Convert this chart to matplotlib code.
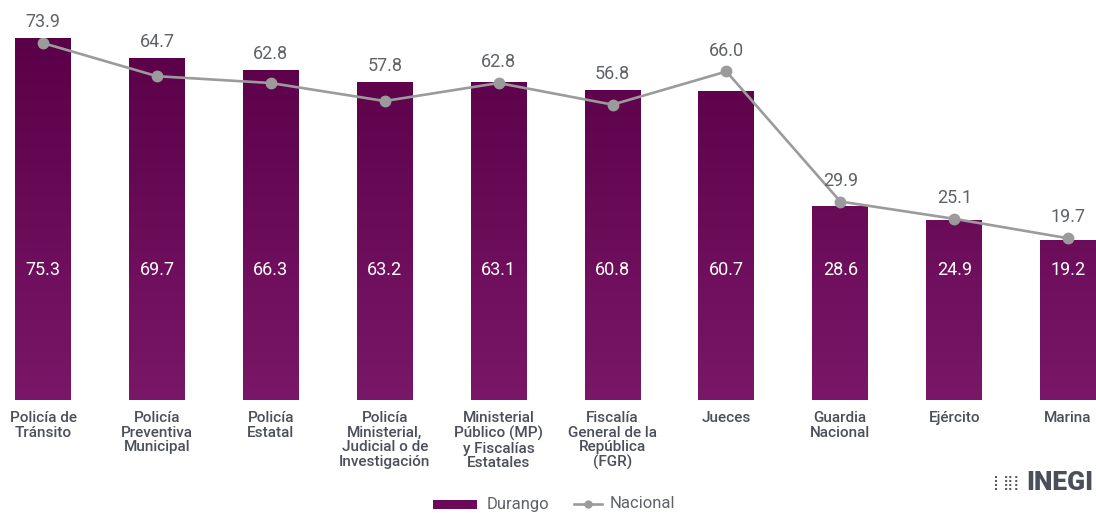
import numpy as np
import matplotlib.pyplot as plt
from matplotlib.colors import LinearSegmentedColormap
from matplotlib.patches import Rectangle
from matplotlib.lines import Line2D

plt.rcParams['font.family'] = ['Roboto', 'DejaVu Sans']

# Datos
categorias = ['Policía de\nTránsito', 'Policía\nPreventiva\nMunicipal', 'Policía\nEstatal',
              'Policía\nMinisterial,\nJudicial o de\nInvestigación',
              'Ministerial\nPúblico (MP)\ny Fiscalías\nEstatales',
              'Fiscalía\nGeneral de la\nRepública\n(FGR)', 'Jueces', 'Guardia\nNacional',
              'Ejército', 'Marina']
durango = [75.3, 69.7, 66.3, 63.2, 63.1, 60.8, 60.7, 28.6, 24.9, 19.2]
nacional = [73.9, 64.7, 62.8, 57.8, 62.8, 56.8, 66.0, 29.9, 25.1, 19.7]

W, H = 1096, 513
fig = plt.figure(figsize=(W / 100, H / 100), dpi=100)
ax = fig.add_axes([0, (H - 400) / H, 1, 362 / H])

ymin, ymax = -25.2, 75.3
ax.set_ylim(ymin, ymax)
x = np.arange(len(categorias))
ax.set_xlim(-43 / 113.9, (W - 43) / 113.9)

gris = '#9b9b9b'
texto = '#5f6368'

# barras con degradado
cmap = LinearSegmentedColormap.from_list('morado', ['#7a1768', '#5a0048'])
grad = np.linspace(0, 1, 256).reshape(-1, 1)
bars = ax.bar(x, np.array(durango) - ymin, bottom=ymin, width=0.49, color='none', zorder=2)
for b in bars:
    im = ax.imshow(grad, cmap=cmap, aspect='auto', origin='lower',
                   extent=[b.get_x(), b.get_x() + b.get_width(), ymin, ymax], zorder=2)
    im.set_clip_path(b)

for i, v in enumerate(durango):
    ax.text(i, 10.9, f'{v:.1f}', ha='center', va='center', color='white', fontsize=13, zorder=4)

# línea nacional
ax.plot(x, nacional, color=gris, lw=1.9, marker='o', markersize=7.5, zorder=3)
for i, v in enumerate(nacional):
    base = max(durango[i], v + 1.4)
    ax.annotate(f'{v:.1f}', (i, base), xytext=(0, 5), textcoords='offset points',
                ha='center', va='bottom', color=texto, fontsize=13, zorder=4,
                annotation_clip=False)

# etiquetas de categorías
for i, c in enumerate(categorias):
    ax.text(i, -0.03, c, transform=ax.get_xaxis_transform(), ha='center', va='top',
            fontsize=11, fontweight='medium', color='#4a4f59', linespacing=1.07)

ax.axis('off')

# leyenda (dibujada a mano)
fig.add_artist(Rectangle((433 / W, 1 - 509 / H), 44 / W, 9 / H, transform=fig.transFigure,
                         facecolor='#6a0a58', edgecolor='none'))
fig.text(487 / W, 1 - 504 / H, 'Durango', fontsize=12, color=texto, va='center', ha='left')
fig.add_artist(Line2D([574 / W, 602 / W], [1 - 504 / H] * 2, transform=fig.transFigure,
                      color=gris, lw=1.9))
fig.add_artist(Line2D([588 / W], [1 - 504 / H], transform=fig.transFigure,
                      color=gris, marker='o', markersize=5))
fig.text(610 / W, 1 - 504 / H, 'Nacional', fontsize=12, color=texto, va='center', ha='left')

# logo
fig.text(993 / W, 1 - 483 / H, '⡇⣿⡇', fontsize=10, color='#555a63', va='center', ha='left',
         family='DejaVu Sans')
fig.text(1026 / W, 1 - 483 / H, 'INEGI', fontsize=19, fontweight='black', color='#4a4f59',
         va='center', ha='left')

fig.savefig('out.png', dpi=100)
